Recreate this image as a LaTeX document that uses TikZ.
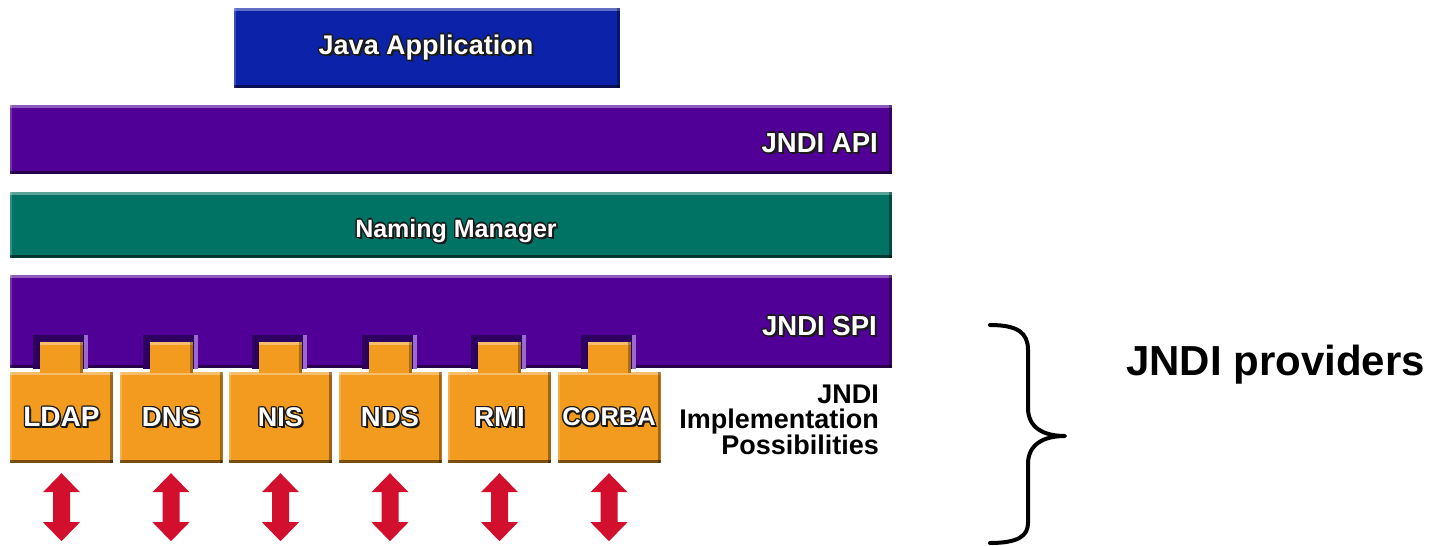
\documentclass[tikz,border=0pt]{standalone}
\usepackage{fontspec}
\setmainfont{Liberation Sans}
\usetikzlibrary{calc}
\definecolor{javablue}{HTML}{0C22A8}
\definecolor{apipurple}{HTML}{500096}
\definecolor{notchpurple}{HTML}{2E0060}
\definecolor{lightpurple}{HTML}{9A6AD0}
\definecolor{namingteal}{HTML}{007364}
\definecolor{provorange}{HTML}{F29B1E}
\definecolor{provdark}{HTML}{7A4200}
\definecolor{arrowred}{HTML}{D20F2D}
\definecolor{halocol}{HTML}{1A1A1A}
\newcommand\hlt[1]{\leavevmode
  \rlap{\textcolor{halocol}{\kern2pt\raisebox{-2pt}{#1}}}%
  \rlap{\textcolor{halocol}{\kern-1.3pt#1}}%
  \rlap{\textcolor{halocol}{\kern1.3pt#1}}%
  \rlap{\textcolor{halocol}{\raisebox{1.3pt}{#1}}}%
  \rlap{\textcolor{halocol}{\raisebox{-1.3pt}{#1}}}%
  \rlap{\textcolor{halocol}{\kern1pt\raisebox{1pt}{#1}}}%
  \rlap{\textcolor{halocol}{\kern-1pt\raisebox{1pt}{#1}}}%
  \rlap{\textcolor{halocol}{\kern1pt\raisebox{-1pt}{#1}}}%
  \rlap{\textcolor{halocol}{\kern-1pt\raisebox{-1pt}{#1}}}%
  \textcolor{white}{#1}}
\begin{document}
\begin{tikzpicture}[x=1pt,y=-1pt,
  bevel/.style={path picture={
    \fill[white,opacity=0.35] (path picture bounding box.north west) rectangle ([yshift=-3pt]path picture bounding box.north east);
    \fill[white,opacity=0.2] (path picture bounding box.north west) rectangle ([xshift=2pt]path picture bounding box.south west);
    \fill[black,opacity=0.5] (path picture bounding box.south west) rectangle ([yshift=3.5pt]path picture bounding box.south east);
    \fill[black,opacity=0.35] (path picture bounding box.north east) rectangle ([xshift=-3pt]path picture bounding box.south east);
  }},
  bar/.style={draw=none, inner sep=0pt, bevel},
  barlabel/.style={inner sep=0pt, font=\bfseries\fontsize{27}{27}\selectfont},
  prov/.style={draw=none, fill=provorange, inner sep=0pt, minimum width=103pt, minimum height=91pt, bevel},
  tab/.style={fill=provorange},
  notch/.style={fill=notchpurple},
  notchlight/.style={fill=lightpurple},
  dblarrow/.style={fill=arrowred},
  brace/.style={draw=black, line width=4pt, line cap=round, line join=round}
]
\useasboundingbox (0,0) rectangle (1430,546);

% Layers
\node[bar, fill=javablue, minimum width=386pt, minimum height=80pt] (java) at (427,48) {};
\node[barlabel, anchor=base] (javalbl) at (426,54) {\hlt{Java Application}};

\node[bar, fill=apipurple, minimum width=882pt, minimum height=69pt] (api) at (451,139.5) {};
\node[barlabel, anchor=base east, font=\bfseries\fontsize{27.5}{27.5}\selectfont] (apilbl) at (878,152) {\hlt{JNDI API}};

\node[bar, fill=namingteal, minimum width=882pt, minimum height=66pt] (naming) at (451,225) {};
\node[barlabel, anchor=base, font=\bfseries\fontsize{25}{25}\selectfont] (naminglbl) at (456,237) {\hlt{Naming Manager}};

\node[bar, fill=apipurple, minimum width=882pt, minimum height=93pt] (spi) at (451,321.5) {};
\node[barlabel, anchor=base east, font=\bfseries\fontsize{27.5}{27.5}\selectfont] (spilbl) at (877,335) {\hlt{JNDI SPI}};

% Providers
\foreach \name/\x/\lbl/\fs in {ldap/61.5/LDAP/28, dns/171/DNS/27.5, nis/280.5/NIS/27, nds/390/NDS/27.5, rmi/499.5/RMI/27.5, corba/609/CORBA/25.5}{
  \coordinate (\name top) at (\x,372);
  \fill[notch] ($(\name top)+(-28.5,-37)$) rectangle ($(\name top)+(26.5,-3)$);
  \fill[notchlight] ($(\name top)+(22.5,-37)$) rectangle ($(\name top)+(26.5,-3)$);
  \node[prov, font=\bfseries\fontsize{\fs}{\fs}\selectfont] (\name) at (\x,417.5) {\hlt{\lbl}};
  \fill[tab] ($(\name.north)+(-21.5,-30)$) rectangle ($(\name.north)+(21.5,1)$);
  \fill[white,opacity=0.35] ($(\name.north)+(-21.5,-30)$) rectangle ($(\name.north)+(21.5,-27)$);
  \fill[black,opacity=0.3] ($(\name.north)+(18.5,-30)$) rectangle ($(\name.north)+(21.5,1)$);
  \fill[dblarrow] ($(\name.south)+(0,10)$) -- ++(18.5,19) -- ++(-10,0) -- ++(0,30) -- ++(10,0)
     -- ++(-18.5,19) -- ++(-18.5,-19) -- ++(10,0) -- ++(0,-30) -- ++(-10,0) -- cycle;
}

\node[anchor=north east, inner sep=0pt, align=right, font=\bfseries\fontsize{27}{25}\selectfont] (impl) at (879,385)
  {JNDI\\Implementation\\Possibilities};

% Brace
\coordinate (bracetop) at (990,325);
\coordinate (bracetip) at (1065,436);
\coordinate (bracebot) at (990,543);
\draw[brace] (bracetop) .. controls (1018,325) and (1028,333) .. (1028,350) -- (1028,408)
  .. controls (1028,428) and (1044,436) .. (bracetip)
  .. controls (1044,436) and (1028,444) .. (1028,464) -- (1028,523)
  .. controls (1028,536) and (1018,543) .. (bracebot);

\node[anchor=base west, inner sep=0pt, font=\bfseries\fontsize{42}{42}\selectfont] (providers) at (1126,375) {JNDI providers};
\end{tikzpicture}
\end{document}
